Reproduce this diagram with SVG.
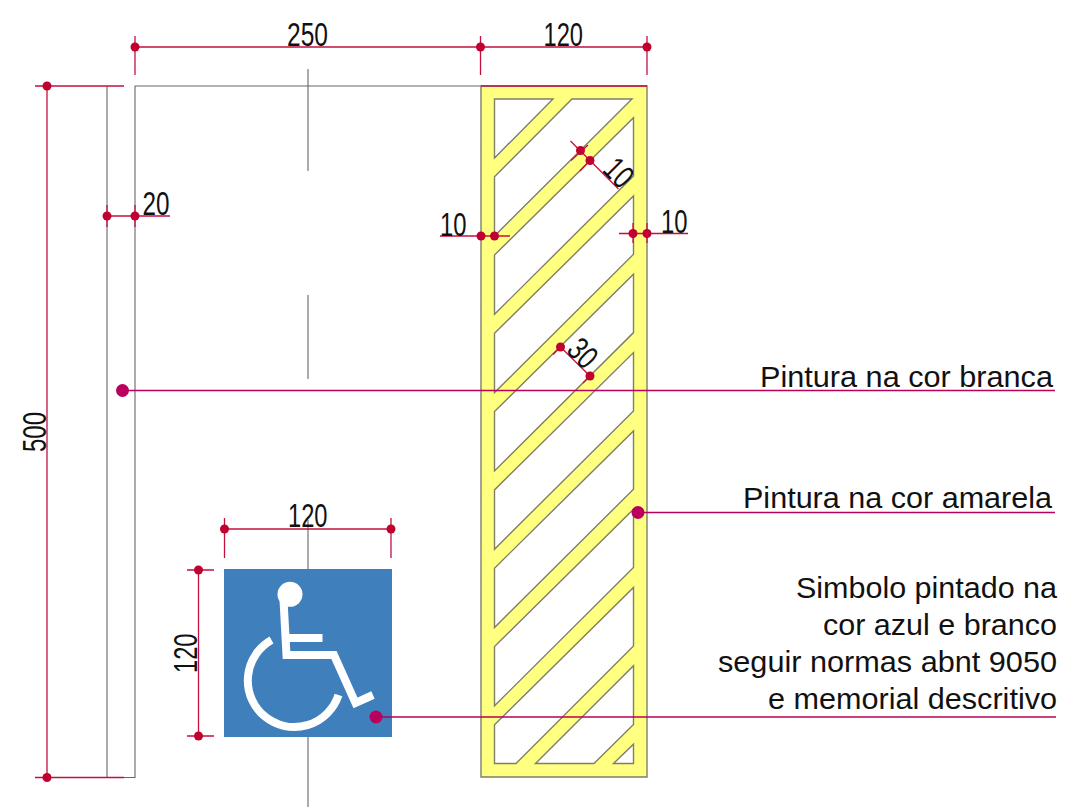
<svg xmlns="http://www.w3.org/2000/svg" width="1067" height="807" viewBox="0 0 1067 807">
<style>
text{font-family:"Liberation Sans",Arial,sans-serif;fill:#111}
.n{font-size:33px}
.l{font-size:30px;text-anchor:end}
.g{stroke:#666;stroke-width:1.1;fill:none}
.d{stroke:#c4103f;stroke-width:1.3;fill:none}
.dd{fill:#c0002e}
.m{stroke:#b8005c;stroke-width:1.4;fill:none}
.md{fill:#b8005c}
.w{stroke:#fff;stroke-width:8;fill:none}
</style>
<rect width="1067" height="807" fill="#fff"/>
<g id="curb">
<path class="g" d="M107 86V777.5H135V86H481M308 69V171M308 295V379M308 520V569M308 737V807"/>
</g>
<g id="hatched-zone">
<path fill="#ffff80" stroke="#7f7f68" stroke-width="1.4" fill-rule="evenodd" d="M481 86H647V777H481Z
M494.5 99H553L494.5 158Z
M572 99H632L494.5 236V176.7Z
M633.5 117.7V176L494.5 314.3V255Z
M633.5 196V254.3L494.5 392.6V333.3Z
M633.5 274.3V332.6L494.5 470.9V411.6Z
M633.5 352.6V410.9L494.5 549.2V489.9Z
M633.5 430.9V489.2L494.5 627.5V568.2Z
M633.5 509.2V567.5L494.5 705.8V646.5Z
M633.5 587.5V646L516 763.5H494.5V724.8Z
M633.5 665.8V724.5L594 763.5H535.5Z
M633.5 744.2V763.5H613.5Z"/>
<path d="M481 86H647" stroke="#c4103f" stroke-width="1.3"/>
</g>
<g id="symbol">
<rect x="224" y="569" width="168" height="168" fill="#3f7fbb"/>
<circle cx="290" cy="594.3" r="12.5" fill="#fff"/>
<path class="w" stroke-linejoin="miter" d="M283.5 600L286.5 655H334L355.5 703L373 695"/>
<path class="w" d="M286 638H322.5"/>
<path class="w" d="M271.5 640A46.5 46.5 0 1 0 338.5 695"/>
</g>
<g id="connectors">
<path class="d" d="M135 47H647M135 36V75M480.5 36V75M647 36V75"/>
<path class="d" d="M47 86V777.5M35 86H124M35 777.5H124"/>
<path class="d" d="M107 216H170M107 205V227M135 205V227"/>
<path class="d" d="M440 236H510"/>
<path class="d" d="M619 233.5H688M633 223V243M647 223V243"/>
<path class="d" d="M570.5 141L590 160.5L618.5 189M571 160.5L588 145M580 171L593 157"/>
<path class="d" d="M560.5 347L590 376M553 354.5L560.5 347M583 383L590 376"/>
<path class="d" d="M224.5 529H391M224.5 518V558M391 518V558"/>
<path class="d" d="M198.5 570V736M187 570H214M187 736H214"/>
<path class="m" d="M122.5 390.5H1055M638 512.5H1055M376 717H1056"/>
<g class="dd">
<circle cx="135" cy="47" r="4.5"/><circle cx="480.5" cy="47" r="4.5"/><circle cx="647" cy="47" r="4.5"/>
<circle cx="47" cy="86" r="4.5"/><circle cx="47" cy="777.5" r="4.5"/>
<circle cx="107" cy="216" r="4.5"/><circle cx="135" cy="216" r="4.5"/>
<circle cx="481" cy="236" r="4.5"/><circle cx="494.5" cy="236" r="4.5"/>
<circle cx="633" cy="233.5" r="4.5"/><circle cx="647" cy="233.5" r="4.5"/>
<circle cx="580.5" cy="150.5" r="4.5"/><circle cx="590" cy="160.5" r="4.5"/>
<circle cx="560.5" cy="347" r="4.5"/><circle cx="590" cy="376" r="4.5"/>
<circle cx="224.5" cy="529" r="4.5"/><circle cx="391" cy="529" r="4.5"/>
<circle cx="198.5" cy="570" r="4.5"/><circle cx="198.5" cy="736" r="4.5"/>
</g>
<g class="md">
<circle cx="122.5" cy="390.5" r="6.5"/><circle cx="638" cy="512.5" r="6.5"/><circle cx="376" cy="717" r="6.5"/>
</g>
</g>
<g id="dimension-labels">
<text class="n" x="287" y="46" textLength="41" lengthAdjust="spacingAndGlyphs">250</text>
<text class="n" x="543.5" y="46" textLength="39.5" lengthAdjust="spacingAndGlyphs">120</text>
<text class="n" x="288" y="527" textLength="39.5" lengthAdjust="spacingAndGlyphs">120</text>
<text class="n" x="142.5" y="215" textLength="27" lengthAdjust="spacingAndGlyphs">20</text>
<text class="n" x="440" y="236" textLength="26.5" lengthAdjust="spacingAndGlyphs">10</text>
<text class="n" x="661" y="233" textLength="26.5" lengthAdjust="spacingAndGlyphs">10</text>
<text class="n" transform="translate(46 452) rotate(-90)" textLength="40" lengthAdjust="spacingAndGlyphs">500</text>
<text class="n" transform="translate(197 673) rotate(-90)" textLength="39.5" lengthAdjust="spacingAndGlyphs">120</text>
<text class="n" transform="translate(619 172.5) rotate(45)" x="-13.5" y="11.5" textLength="27" lengthAdjust="spacingAndGlyphs">10</text>
<text class="n" transform="translate(583 353) rotate(45)" x="-13.5" y="11.5" textLength="27" lengthAdjust="spacingAndGlyphs">30</text>
</g>
<g id="notes">
<text class="l" x="1053" y="387" textLength="293" lengthAdjust="spacingAndGlyphs">Pintura na cor branca</text>
<text class="l" x="1052" y="508" textLength="309" lengthAdjust="spacingAndGlyphs">Pintura na cor amarela</text>
<text class="l" x="1057" y="598" textLength="261" lengthAdjust="spacingAndGlyphs">Simbolo pintado na</text>
<text class="l" x="1057" y="635" textLength="234" lengthAdjust="spacingAndGlyphs">cor azul e branco</text>
<text class="l" x="1057" y="672" textLength="339" lengthAdjust="spacingAndGlyphs">seguir normas abnt 9050</text>
<text class="l" x="1057" y="709" textLength="289" lengthAdjust="spacingAndGlyphs">e memorial descritivo</text>
</g>
</svg>
